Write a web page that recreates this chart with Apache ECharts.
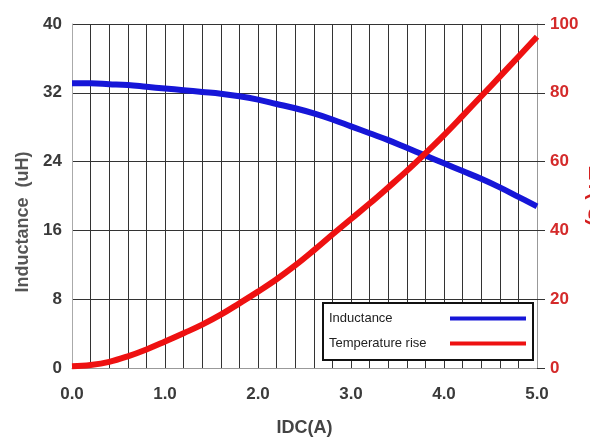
<!DOCTYPE html>
<html><head><meta charset="utf-8">
<script src="https://cdn.jsdelivr.net/npm/echarts@6/dist/echarts.min.js"></script>
<style>html,body{margin:0;padding:0;background:#fff}#c{width:590px;height:441px}</style>
</head><body><div id="c"></div>
<script>
const idc = [0,0.2,0.4,0.6,0.8,1.0,1.2,1.4,1.6,1.8,2.0,2.2,2.4,2.6,2.8,3.0,3.2,3.4,3.6,3.8,4.0,4.2,4.4,4.6,4.8,5.0];
const inductance = [33.1,33.1,33.0,32.9,32.7,32.5,32.3,32.1,31.9,31.6,31.2,30.7,30.2,29.6,28.9,28.1,27.3,26.5,25.6,24.7,23.8,22.9,22.0,21.0,19.9,18.8];
const tempRise = [0.5,0.9,1.8,3.4,5.4,7.7,10.1,12.6,15.5,18.8,22.2,25.8,29.8,34.2,38.8,43.3,47.8,52.5,57.3,62.4,67.7,73.3,79.0,84.7,90.5,96.3];
const seriesNames = ['Inductance','Temperature rise'];
const xName = 'IDC(A)';
const yLeftName = 'Inductance  (uH)';
const yRightName = 'ΔT(℃)';

const lab = '"Liberation Sans",Arial,sans-serif';
const chart = echarts.init(document.getElementById('c'), null, {renderer:'canvas'});
chart.setOption({
  animation:false,
  backgroundColor:'#fff',
  grid:{left:72,right:53,top:24,bottom:73,containLabel:false,outerBoundsMode:'none'},
  legend:{
    orient:'vertical', left:323, top:303,
    align:'right', itemWidth:76, itemHeight:4, itemGap:12,
    padding:[9,7,10,6],
    backgroundColor:'#fff', borderColor:'#111', borderWidth:2,
    icon:'rect',
    formatter: n => '{t|' + n + '}',
    textStyle:{color:'#222', fontSize:13, fontFamily:lab,
      rich:{t:{width:116, align:'left', fontSize:13, color:'#222', fontFamily:lab}}},
    data:seriesNames
  },
  xAxis:{
    type:'value', min:0, max:5, interval:0.2,
    name:xName, nameLocation:'middle', nameGap:51,
    nameTextStyle:{color:'#444', fontSize:18, fontWeight:'bold', fontFamily:lab},
    axisLine:{show:true, lineStyle:{color:'#999', width:1}},
    axisTick:{show:false},
    axisLabel:{margin:18, color:'#3a3a3a', fontSize:17, fontWeight:'bold', fontFamily:lab,
      formatter: v => Math.abs(v - Math.round(v)) < 1e-6 ? v.toFixed(1) : ''},
    splitLine:{show:true, lineStyle:{color:'#333', width:1}}
  },
  yAxis:[{
    type:'value', min:0, max:40, interval:8, position:'left',
    name:yLeftName, nameLocation:'middle', nameGap:38,
    nameTextStyle:{color:'#555', fontSize:18, fontWeight:'bold', fontFamily:lab, padding:[0,52,0,0]},
    axisLine:{show:true, lineStyle:{color:'#aaa', width:1}},
    axisTick:{show:false},
    axisLabel:{margin:10, color:'#3a3a3a', fontSize:17, fontWeight:'bold', fontFamily:lab},
    splitLine:{show:true, lineStyle:{color:'#333', width:1}}
  },{
    type:'value', min:0, max:100, interval:20, position:'right',
    name:yRightName, nameLocation:'middle', nameGap:48, nameRotate:-90, nameMoveOverlap:false,
    nameTextStyle:{color:'#d42020', fontSize:20, fontWeight:'bold', fontFamily:lab},
    axisLine:{show:true, lineStyle:{color:'#999', width:1}},
    axisTick:{show:true, inside:false, length:8, lineStyle:{color:'#333'}},
    axisLabel:{margin:13, color:'#d42a2a', fontSize:17, fontWeight:'bold', fontFamily:lab},
    splitLine:{show:false}
  }],
  series:[{
    name:seriesNames[0], type:'line', yAxisIndex:0, smooth:0.4, showSymbol:false,
    data: idc.map((x,i)=>[x,inductance[i]]),
    lineStyle:{color:'#1616d8', width:6}, itemStyle:{color:'#1616d8'}, z:3
  },{
    name:seriesNames[1], type:'line', yAxisIndex:1, smooth:0.4, showSymbol:false,
    data: idc.map((x,i)=>[x,tempRise[i]]),
    lineStyle:{color:'#ee1111', width:6}, itemStyle:{color:'#ee1111'}, z:4
  }]
});
</script></body></html>
